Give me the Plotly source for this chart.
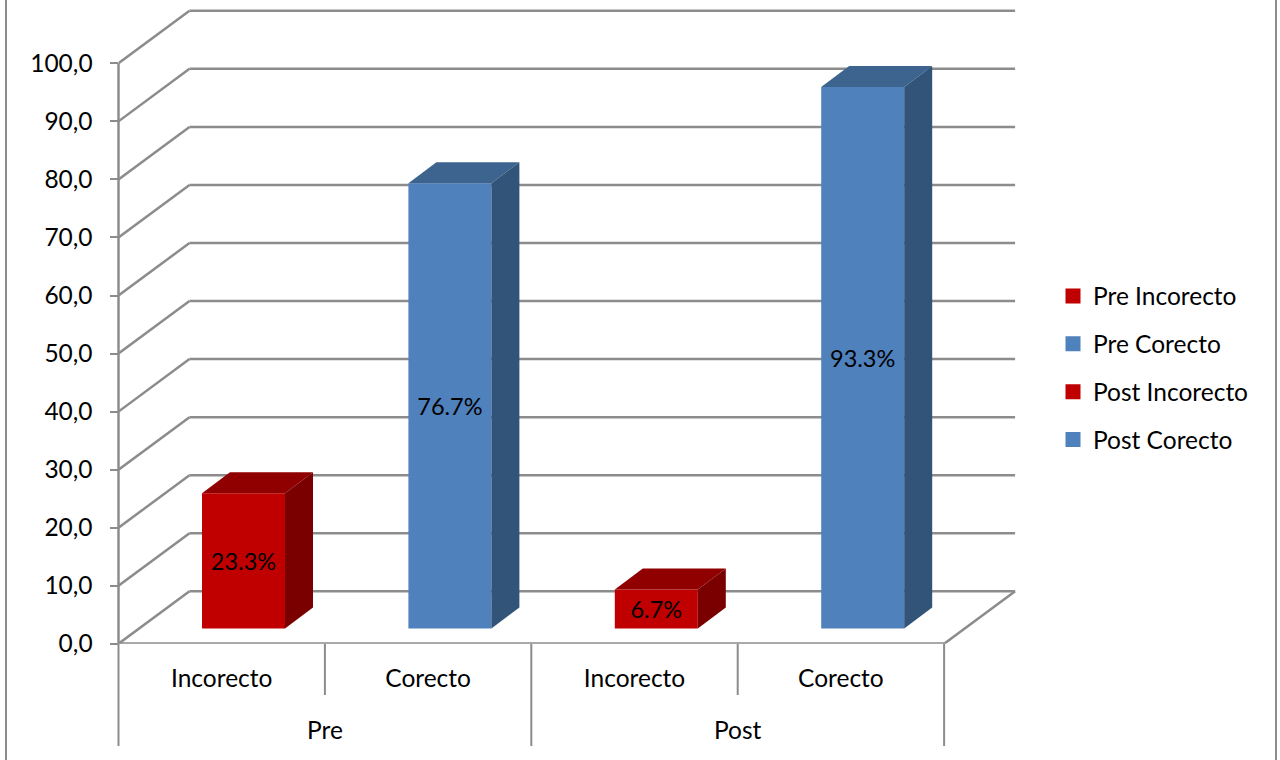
import plotly.graph_objects as go

# Chart data
series_names = ["Pre Incorecto", "Pre Corecto", "Post Incorecto", "Post Corecto"]
categories = ["Incorecto", "Corecto", "Incorecto", "Corecto"]
groups = ["Pre", "Post"]
values = [23.3, 76.7, 6.7, 93.3]
value_labels = ["23.3%", "76.7%", "6.7%", "93.3%"]
y_ticks = [0, 10, 20, 30, 40, 50, 60, 70, 80, 90, 100]
y_tick_labels = ["0,0", "10,0", "20,0", "30,0", "40,0", "50,0", "60,0", "70,0", "80,0", "90,0", "100,0"]

# Palette per bar: front, top and side faces
front_colors = ["#C00000", "#4F81BD", "#C00000", "#4F81BD"]
top_colors = ["#900000", "#3D638F", "#900000", "#3D638F"]
side_colors = ["#7A0000", "#325479", "#7A0000", "#325479"]
GRID = "#8C8C8C"
FONT = "Lato"
FONT_SIZE = 24.5
LABEL_SIZE = 23.5

# Projection of the chart box on the page
W, H = 1280, 760
ORIGIN_X, ORIGIN_Y = 118.5, 643.8
CAT_W = 206.4          # pixels per category
UNIT_H = 5.805         # pixels per value unit
WALL_DX = 71 / CAT_W   # oblique offset of the back wall
WALL_DY = 52.5 / UNIT_H
BAR_W = 83 / CAT_W
BAR_SHIFT = 21.8 / CAT_W
BAR_BASE = 15.3 / UNIT_H
BAR_DX = 28 / CAT_W    # oblique depth of each bar
BAR_DY = 21 / UNIT_H
X_MAX = (W - ORIGIN_X) / CAT_W
Y_MAX = ORIGIN_Y / UNIT_H
N = len(categories)


def below_axis(px):
    """Paper-relative height of a page pixel row."""
    return (H - px) / H


shapes = []


def seg(x0, y0, x1, y1, width=2.5):
    shapes.append(dict(type="line", xref="x", yref="y", x0=x0, y0=y0, x1=x1, y1=y1,
                       layer="below", line=dict(color=GRID, width=width)))


# Back wall gridlines and their oblique continuation on the side wall
for t in y_ticks:
    seg(0, t, WALL_DX, t + WALL_DY)
    if t > 0:
        seg(WALL_DX, t + WALL_DY, N + WALL_DX, t + WALL_DY)

# Floor outline
seg(0, 0, N, 0, 3)
seg(N, 0, N + WALL_DX, WALL_DY)
seg(WALL_DX, WALL_DY, N + WALL_DX, WALL_DY)

# Value axis line, placed on the page so the plot-area clip leaves it whole
shapes.append(dict(type="line", xref="paper", yref="y", x0=ORIGIN_X / W, x1=ORIGIN_X / W,
                   y0=0, y1=100, layer="below", line=dict(color=GRID, width=2.5)))

# Category dividers under the floor
for i in range(N + 1):
    bottom = 746 if i % 2 == 0 else 695
    xref, xpos = ("paper", ORIGIN_X / W) if i == 0 else ("x", i)
    shapes.append(dict(type="line", xref=xref, yref="paper", x0=xpos, x1=xpos,
                       y0=below_axis(ORIGIN_Y), y1=below_axis(bottom),
                       layer="below", line=dict(color=GRID, width=2)))

# Outer chart frame
for px in (6, 1276):
    shapes.append(dict(type="line", xref="paper", yref="paper", x0=px / W, x1=px / W, y0=0, y1=1,
                       layer="below", line=dict(color=GRID, width=2)))

fig = go.Figure()

for i, (name, v) in enumerate(zip(series_names, values)):
    xc = i + 0.5 + BAR_SHIFT
    left, right = xc - BAR_W / 2, xc + BAR_W / 2
    top = BAR_BASE + v

    fig.add_trace(go.Bar(
        x=[xc], y=[v], base=[BAR_BASE], width=[BAR_W], name=name, showlegend=False,
        legendgroup=name,
        marker=dict(color=front_colors[i], line=dict(width=0)),
        text=[value_labels[i]], textposition="inside", insidetextanchor="middle",
        textangle=0, constraintext="none",
        insidetextfont=dict(family=FONT, size=LABEL_SIZE, color="#000000"),
        hoverinfo="skip",
    ))
    # Top face
    fig.add_trace(go.Scatter(
        x=[left, left + BAR_DX, right + BAR_DX, right, left],
        y=[top, top + BAR_DY, top + BAR_DY, top, top],
        mode="lines", fill="toself", fillcolor=top_colors[i], line=dict(width=0),
        showlegend=False, legendgroup=name, hoverinfo="skip",
    ))
    # Side face
    fig.add_trace(go.Scatter(
        x=[right, right + BAR_DX, right + BAR_DX, right, right],
        y=[BAR_BASE, BAR_BASE + BAR_DY, top + BAR_DY, top, BAR_BASE],
        mode="lines", fill="toself", fillcolor=side_colors[i], line=dict(width=0),
        showlegend=False, legendgroup=name, hoverinfo="skip",
    ))
    # Legend key
    fig.add_trace(go.Scatter(
        x=[None], y=[None], mode="markers", name=name, legendgroup=name,
        marker=dict(symbol="square", size=15, color=front_colors[i]),
    ))

annotations = [
    dict(text=g, xref="x", yref="paper", x=1 + 2 * j, y=below_axis(729), showarrow=False,
         xanchor="center", yanchor="middle",
         font=dict(family=FONT, size=FONT_SIZE, color="#000000"))
    for j, g in enumerate(groups)
]

fig.update_layout(
    width=W, height=H, margin=dict(l=0, r=0, t=0, b=0, autoexpand=False),
    paper_bgcolor="#FFFFFF", plot_bgcolor="rgba(0,0,0,0)",
    barmode="overlay", shapes=shapes, annotations=annotations,
    font=dict(family=FONT, size=FONT_SIZE, color="#000000"),
    legend=dict(x=1053 / W, xanchor="left", y=below_axis(368), yanchor="middle",
                bgcolor="rgba(0,0,0,0)", tracegroupgap=13, itemsizing="trace",
                traceorder="grouped", font=dict(family=FONT, size=FONT_SIZE, color="#000000")),
    xaxis=dict(domain=[ORIGIN_X / W, 1], range=[0, X_MAX], showgrid=False, zeroline=False,
               showline=False, tickmode="array", tickvals=[i + 0.5 for i in range(N)],
               ticktext=categories, ticks="outside", ticklen=13, tickcolor="rgba(0,0,0,0)",
               tickfont=dict(family=FONT, size=FONT_SIZE, color="#000000")),
    yaxis=dict(domain=[below_axis(ORIGIN_Y), 1], range=[0, Y_MAX], showgrid=False, zeroline=False,
               showline=False, tickmode="array", tickvals=y_ticks, ticktext=y_tick_labels,
               ticks="outside", ticklen=8, tickwidth=2, tickcolor=GRID, ticklabelstandoff=12,
               tickfont=dict(family=FONT, size=FONT_SIZE, color="#000000")),
)

fig.write_html("out.html", config=dict(displayModeBar=False))
